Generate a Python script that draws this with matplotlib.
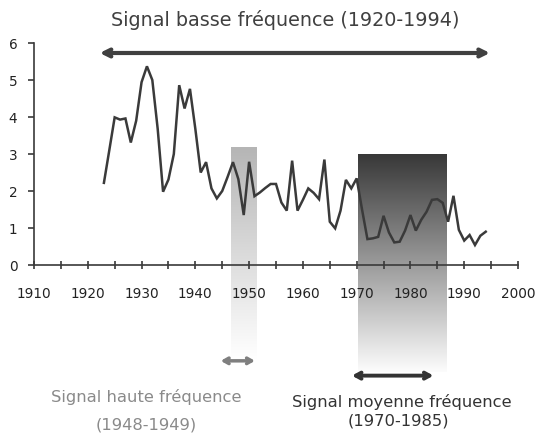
import numpy as np
import matplotlib
matplotlib.use("Agg")
import matplotlib.pyplot as plt

years = list(range(1923, 1995))
values = [2.22, 3.10, 3.99, 3.93, 3.96, 3.31, 3.90, 4.94, 5.37, 5.00,
          3.68, 1.98, 2.31, 3.00, 4.86, 4.23, 4.76, 3.68, 2.50, 2.78,
          2.07, 1.80, 2.00, 2.38, 2.78, 2.32, 1.35, 2.79, 1.86, 1.96,
          2.08, 2.19, 2.19, 1.69, 1.47, 2.82, 1.47, 1.76, 2.07, 1.95,
          1.78, 2.85, 1.17, 0.99, 1.47, 2.30, 2.07, 2.34, 1.50, 0.70,
          0.72, 0.76, 1.33, 0.88, 0.61, 0.63, 0.93, 1.35, 0.93, 1.22,
          1.44, 1.76, 1.78, 1.68, 1.17, 1.87, 0.95, 0.66, 0.81, 0.54,
          0.79, 0.90]

x_ticks = [1910, 1920, 1930, 1940, 1950, 1960, 1970, 1980, 1990, 2000]
y_ticks = [0, 1, 2, 3, 4, 5, 6]

title_txt = "Signal basse fréquence (1920-1994)"
high_txt = ["Signal haute fréquence", "(1948-1949)"]
mid_txt = ["Signal moyenne fréquence", "(1970-1985)"]

fig = plt.figure(figsize=(5.36, 4.39), dpi=100)
ax = fig.add_axes([34/536, 1-266/439, (518-34)/536, (266-44)/439])

dark = "#3a3a3a"

def grad_rect(x0, x1, y0, y1, top, bottom):
    n = 256
    v = np.linspace(bottom, top, n) / 255.0
    img = np.repeat(v[:, None, None], 3, axis=2)
    ax.imshow(img, extent=[x0, x1, y0, y1], origin="lower", aspect="auto",
              clip_on=False, zorder=0, interpolation="bilinear")

grad_rect(1946.6, 1951.3, -2.55, 3.17, 181, 255)
grad_rect(1970.2, 1986.7, -2.9, 2.98, 56, 252)

ax.plot(years, values, color=dark, lw=1.8, zorder=3, solid_joinstyle="miter")

ax.set_xlim(1910, 2000)
ax.set_ylim(0, 6)
ax.set_xticks(x_ticks)
ax.set_xticks([t + 5 for t in x_ticks[:-1]], minor=True)
ax.set_yticks(y_ticks)
for s in ["top", "right"]:
    ax.spines[s].set_visible(False)
for s in ["left", "bottom"]:
    ax.spines[s].set_color(dark)
    ax.spines[s].set_linewidth(1.2)
ax.tick_params(axis="x", which="both", direction="inout", length=6, width=1.2,
               color=dark, pad=12, labelsize=9.8, labelcolor="#222222")
ax.tick_params(axis="y", direction="out", length=4, width=1.2, color=dark,
               pad=8, labelsize=9.8, labelcolor="#222222")

# arrows
ax.annotate("", xy=(1921.7, 5.73), xytext=(1995.3, 5.73), annotation_clip=False,
            arrowprops=dict(arrowstyle="<->,head_length=0.5,head_width=0.25",
                            color="#404040", lw=3))
ax.annotate("", xy=(1944.2, -2.59), xytext=(1951.6, -2.59), annotation_clip=False,
            arrowprops=dict(arrowstyle="<->,head_length=0.35,head_width=0.2",
                            color="#7f7f7f", lw=2.5))
ax.annotate("", xy=(1968.6, -2.99), xytext=(1984.8, -2.99), annotation_clip=False,
            arrowprops=dict(arrowstyle="<->,head_length=0.4,head_width=0.22",
                            color="#333333", lw=2.8))

ax.text(1956.7, 6.65, title_txt, ha="center", va="center", fontsize=13.8,
        color="#404040", clip_on=False)
ax.text(1930.9, -3.53, high_txt[0], ha="center", va="center", fontsize=11.8,
        color="#8a8a8a", clip_on=False)
ax.text(1930.8, -4.30, high_txt[1], ha="center", va="center", fontsize=11.8,
        color="#8a8a8a", clip_on=False)
ax.text(1978.4, -3.67, mid_txt[0], ha="center", va="center", fontsize=11.8,
        color="#333333", clip_on=False)
ax.text(1977.7, -4.18, mid_txt[1], ha="center", va="center", fontsize=11.8,
        color="#333333", clip_on=False)

fig.savefig("out.png", dpi=100)
